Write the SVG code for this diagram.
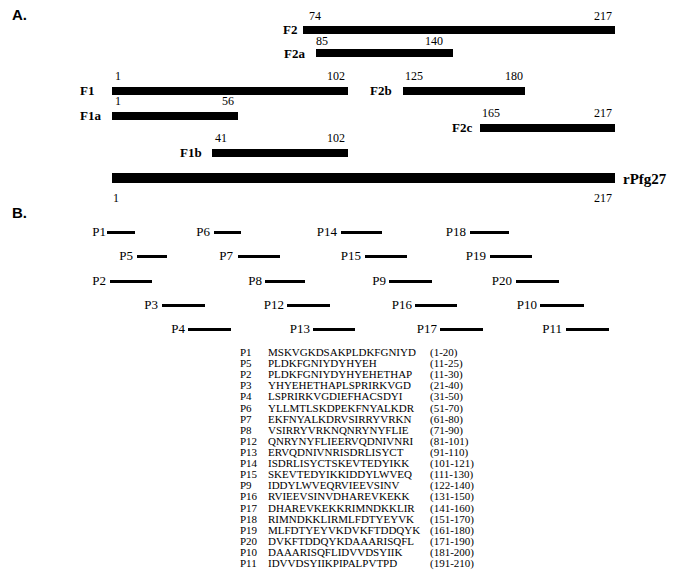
<svg xmlns="http://www.w3.org/2000/svg" width="698" height="574" viewBox="0 0 698 574">
<style>
text{font-family:"Liberation Serif",serif;fill:#000}
.h{font-family:"Liberation Sans",Arial,sans-serif;font-weight:bold;font-size:15px}
.n{font-size:12px}
.fl{font-size:13px;font-weight:bold}
.p{font-size:13px;text-anchor:end}
.t{font-size:11px}
.b{fill:#000}
</style>
<rect width="698" height="574" fill="#fff"/>
<text class="h" x="12" y="20">A.</text>
<text class="h" x="12" y="218">B.</text>
<g id="connectors">
<rect class="b" x="303" y="26" width="312" height="8"/>
<rect class="b" x="316" y="49" width="137" height="8"/>
<rect class="b" x="112" y="87" width="236" height="8"/>
<rect class="b" x="403" y="87" width="122" height="8"/>
<rect class="b" x="112" y="112" width="126" height="8"/>
<rect class="b" x="480" y="124" width="135" height="8"/>
<rect class="b" x="212" y="149" width="136" height="8"/>
<rect class="b" x="112" y="173" width="503" height="10"/>
</g>
<g id="F2"><text class="fl" x="283" y="34">F2</text><text class="n" x="309" y="20">74</text><text class="n" x="594" y="20">217</text></g>
<g id="F2a"><text class="fl" x="284" y="58">F2a</text><text class="n" x="316" y="45">85</text><text class="n" x="425" y="45">140</text></g>
<g id="F1"><text class="fl" x="80" y="95">F1</text><text class="n" x="115" y="80">1</text><text class="n" x="327" y="80">102</text></g>
<g id="F2b"><text class="fl" x="370" y="95">F2b</text><text class="n" x="405" y="80">125</text><text class="n" x="505" y="80">180</text></g>
<g id="F1a"><text class="fl" x="80" y="120">F1a</text><text class="n" x="115" y="105">1</text><text class="n" x="222" y="105">56</text></g>
<g id="F2c"><text class="fl" x="452" y="132">F2c</text><text class="n" x="482" y="117">165</text><text class="n" x="594" y="117">217</text></g>
<g id="F1b"><text class="fl" x="180" y="157">F1b</text><text class="n" x="215" y="142">41</text><text class="n" x="327" y="142">102</text></g>
<g id="rPfg27"><text class="fl" x="623" y="184" style="font-size:15px">rPfg27</text><text class="n" x="113" y="202">1</text><text class="n" x="594" y="202">217</text></g>
<g id="peptides">
<text class="p" x="106" y="236">P1</text><rect class="b" x="99" y="231" width="28" height="3" transform="translate(8 0)"/>
<text class="p" x="210" y="236">P6</text><rect class="b" x="214" y="231" width="27" height="3"/>
<text class="p" x="337" y="236">P14</text><rect class="b" x="341" y="231" width="41" height="3"/>
<text class="p" x="466" y="236">P18</text><rect class="b" x="470" y="231" width="39" height="3"/>
<text class="p" x="133" y="260">P5</text><rect class="b" x="137" y="255" width="30" height="3"/>
<text class="p" x="233" y="260">P7</text><rect class="b" x="238" y="255" width="42" height="3"/>
<text class="p" x="361" y="260">P15</text><rect class="b" x="365" y="255" width="42" height="3"/>
<text class="p" x="486" y="260">P19</text><rect class="b" x="490" y="255" width="42" height="3"/>
<text class="p" x="106" y="285">P2</text><rect class="b" x="110" y="280" width="42" height="3"/>
<text class="p" x="262" y="285">P8</text><rect class="b" x="265" y="280" width="40" height="3"/>
<text class="p" x="386" y="285">P9</text><rect class="b" x="389" y="280" width="43" height="3"/>
<text class="p" x="512" y="285">P20</text><rect class="b" x="516" y="280" width="43" height="3"/>
<text class="p" x="158" y="309">P3</text><rect class="b" x="162" y="304" width="43" height="3"/>
<text class="p" x="284" y="309">P12</text><rect class="b" x="287" y="304" width="43" height="3"/>
<text class="p" x="412" y="309">P16</text><rect class="b" x="415" y="304" width="42" height="3"/>
<text class="p" x="537" y="309">P10</text><rect class="b" x="540" y="304" width="44" height="3"/>
<text class="p" x="185" y="333">P4</text><rect class="b" x="188" y="328" width="43" height="3"/>
<text class="p" x="310" y="333">P13</text><rect class="b" x="313" y="328" width="42" height="3"/>
<text class="p" x="437" y="333">P17</text><rect class="b" x="440" y="328" width="43" height="3"/>
<text class="p" x="562" y="333">P11</text><rect class="b" x="566" y="328" width="43" height="3"/>
</g>
<g id="table">
<text class="t" x="240" y="356">P1</text><text class="t" x="268" y="356">MSKVGKDSAKPLDKFGNIYD</text><text class="t" x="430" y="356">(1-20)</text>
<text class="t" x="240" y="367">P5</text><text class="t" x="268" y="367">PLDKFGNIYDYHYEH</text><text class="t" x="430" y="367">(11-25)</text>
<text class="t" x="240" y="378">P2</text><text class="t" x="268" y="378">PLDKFGNIYDYHYEHETHAP</text><text class="t" x="430" y="378">(11-30)</text>
<text class="t" x="240" y="389">P3</text><text class="t" x="268" y="389">YHYEHETHAPLSPRIRKVGD</text><text class="t" x="430" y="389">(21-40)</text>
<text class="t" x="240" y="400">P4</text><text class="t" x="268" y="400">LSPRIRKVGDIEFHACSDYI</text><text class="t" x="430" y="400">(31-50)</text>
<text class="t" x="240" y="412">P6</text><text class="t" x="268" y="412">YLLMTLSKDPEKFNYALKDR</text><text class="t" x="430" y="412">(51-70)</text>
<text class="t" x="240" y="423">P7</text><text class="t" x="268" y="423">EKFNYALKDRVSIRRYVRKN</text><text class="t" x="430" y="423">(61-80)</text>
<text class="t" x="240" y="434">P8</text><text class="t" x="268" y="434">VSIRRYVRKNQNRYNYFLIE</text><text class="t" x="430" y="434">(71-90)</text>
<text class="t" x="240" y="445">P12</text><text class="t" x="268" y="445">QNRYNYFLIEERVQDNIVNRI</text><text class="t" x="430" y="445">(81-101)</text>
<text class="t" x="240" y="456">P13</text><text class="t" x="268" y="456">ERVQDNIVNRISDRLISYCT</text><text class="t" x="430" y="456">(91-110)</text>
<text class="t" x="240" y="467">P14</text><text class="t" x="268" y="467">ISDRLISYCTSKEVTEDYIKK</text><text class="t" x="430" y="467">(101-121)</text>
<text class="t" x="240" y="478">P15</text><text class="t" x="268" y="478">SKEVTEDYIKKIDDYLWVEQ</text><text class="t" x="430" y="478">(111-130)</text>
<text class="t" x="240" y="489">P9</text><text class="t" x="268" y="489">IDDYLWVEQRVIEEVSINV</text><text class="t" x="430" y="489">(122-140)</text>
<text class="t" x="240" y="500">P16</text><text class="t" x="268" y="500">RVIEEVSINVDHAREVKEKK</text><text class="t" x="430" y="500">(131-150)</text>
<text class="t" x="240" y="512">P17</text><text class="t" x="268" y="512">DHAREVKEKKRIMNDKKLIR</text><text class="t" x="430" y="512">(141-160)</text>
<text class="t" x="240" y="523">P18</text><text class="t" x="268" y="523">RIMNDKKLIRMLFDTYEYVK</text><text class="t" x="430" y="523">(151-170)</text>
<text class="t" x="240" y="534">P19</text><text class="t" x="268" y="534">MLFDTYEYVKDVKFTDDQYK</text><text class="t" x="430" y="534">(161-180)</text>
<text class="t" x="240" y="545">P20</text><text class="t" x="268" y="545">DVKFTDDQYKDAAARISQFL</text><text class="t" x="430" y="545">(171-190)</text>
<text class="t" x="240" y="556">P10</text><text class="t" x="268" y="556">DAAARISQFLIDVVDSYIIK</text><text class="t" x="430" y="556">(181-200)</text>
<text class="t" x="240" y="567">P11</text><text class="t" x="268" y="567">IDVVDSYIIKPIPALPVTPD</text><text class="t" x="430" y="567">(191-210)</text>
</g>
</svg>
